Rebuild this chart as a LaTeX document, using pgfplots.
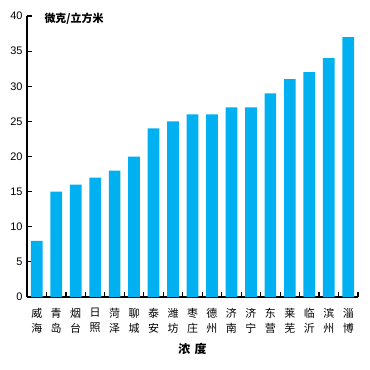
\documentclass[border=0pt]{standalone}
\usepackage{pgfplots}
\pgfplotsset{compat=1.18}
\usepackage{fontspec}
\setmainfont{Liberation Sans}
\newfontfamily\cjk{Noto Sans CJK SC}
\definecolor{barblue}{HTML}{00B0F0}
\begin{document}
\begin{tikzpicture}
\useasboundingbox (-27bp,-73bp) rectangle (343bp,297bp);
\begin{axis}[
  scale only axis,
  clip=false,
  width=331bp, height=281bp,
  xmin=-0.5, xmax=16.5,
  ymin=0, ymax=40,
  axis lines=left,
  axis line style={line width=1.5pt, -},
  ytick={0,5,...,40},
  xtick={-0.5,0.5,...,16.5},
  xticklabels={},
  extra x ticks={0,...,16},
  extra x tick labels={{威\\海},{青\\岛},{烟\\台},{日\\照},{菏\\泽},{聊\\城},{泰\\安},{潍\\坊},{枣\\庄},{德\\州},{济\\南},{济\\宁},{东\\营},{莱\\芜},{临\\沂},{滨\\州},{淄\\博}},
  extra x tick style={major tick length=0pt, tick style={draw=none}},
  tick align=inside,
  major tick length=5bp,
  tick style={black, line width=1.2pt},
  x tick label style={font=\cjk\fontsize{11}{15}\selectfont, align=center, yshift=-8bp},
  y tick label style={font=\fontsize{11}{13}\selectfont, xshift=-1bp},
  /pgf/number format/assume math mode=true,
  xlabel={\cjk\bfseries 浓\hspace{0.35em}度},
  xlabel style={font=\fontsize{12}{14}\selectfont, yshift=-3bp},
]
\addplot[ybar, bar width=0.6, bar shift=0pt, fill=barblue, draw=none] coordinates {
(0,8) (1,15) (2,16) (3,17) (4,18) (5,20) (6,24) (7,25) (8,26) (9,26) (10,27) (11,27) (12,29) (13,31) (14,32) (15,34) (16,37)
};
\node[anchor=west, font=\cjk\bfseries\fontsize{11}{13}\selectfont] at (rel axis cs:0,1) [xshift=14bp, yshift=-3bp] {微克/立方米};
\end{axis}
\end{tikzpicture}
\end{document}
